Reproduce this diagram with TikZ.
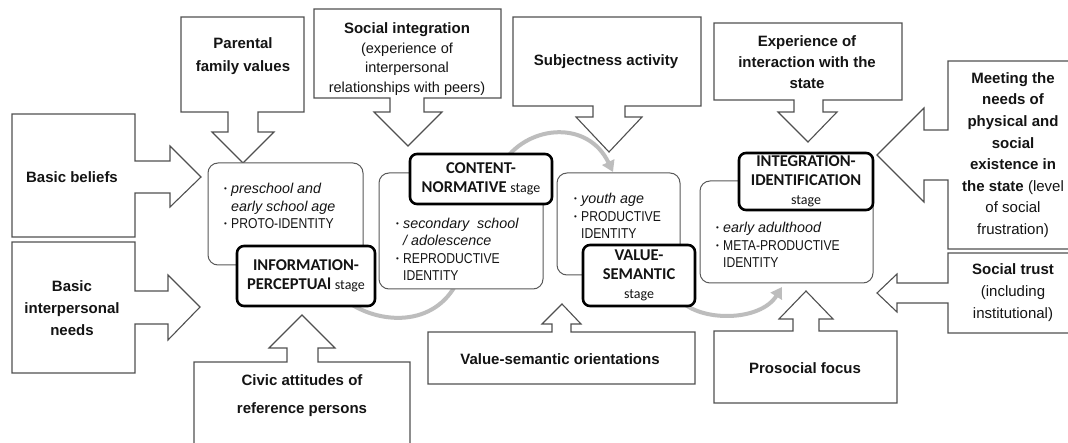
\documentclass[tikz,border=0pt]{standalone}
\usepackage{fontspec}
\setmainfont{Liberation Sans}
\newfontfamily\narrowfont[FakeStretch=0.85]{Liberation Sans}
\newfontfamily\calfont{Carlito}
\usetikzlibrary{arrows.meta}
\definecolor{txt}{HTML}{141414}
\definecolor{arcgray}{HTML}{BDBDBD}
\definecolor{outl}{HTML}{505050}
\newcommand\mybul{\makebox[7pt][l]{\raisebox{0.12em}{\fontsize{8}{8}\selectfont\textbullet}}}
\newcommand\myind{\makebox[7pt]{}}
\tikzset{
  callout/.style={draw=outl, line width=1.1pt, fill=white, line join=miter},
  cbox/.style={draw=black!65, line width=1pt, rounded corners=10pt, fill=white, inner sep=0pt},
  stagebox/.style={draw=black, line width=2.6pt, rounded corners=7pt, fill=white, inner sep=0pt,
    align=center, text=txt, font=\calfont\bfseries\fontsize{16.5}{19}\selectfont},
  ctext/.style={font=\bfseries\fontsize{15}{21.5}\selectfont, align=center, text=txt, inner sep=0pt},
  btext/.style={anchor=west, align=left, inner sep=0pt, font=\fontsize{14.3}{17.5}\selectfont, text=txt},
  cyc/.style={draw=arcgray, line width=4pt, -{Triangle[length=11pt,width=13pt]}},
}
\begin{document}
\begin{tikzpicture}[x=1pt,y=-1pt]
\useasboundingbox (0,0) rectangle (1068,443);
\clip (0,0) rectangle (1068,443);
\fill[white] (0,0) rectangle (1068,443);

% ---- callouts ----
\draw[callout] (12,114) -- (135,114) -- (135,161) -- (170,161) -- (170,146) -- (201,177) -- (170,207) -- (170,193) -- (135,193) -- (135,237) -- (12,237) -- cycle;
\node[ctext] (beliefs) at (72,177) {Basic beliefs};

\draw[callout] (12,242) -- (135,242) -- (135,291) -- (168,291) -- (168,275) -- (200,307) -- (168,340) -- (168,324) -- (135,324) -- (135,373) -- (12,373) -- cycle;
\node[ctext, font=\bfseries\fontsize{15}{22}\selectfont] (needs) at (72,308) {Basic\\interpersonal\\needs};

\draw[callout] (181,17) -- (304,17) -- (304,112) -- (258,112) -- (258,132) -- (274,132) -- (243,163) -- (212,132) -- (228,132) -- (228,112) -- (181,112) -- cycle;
\node[ctext, font=\bfseries\fontsize{15}{23}\selectfont] (parental) at (243,56.5) {Parental\\family values};

\draw[callout] (314,9) -- (501,9) -- (501,98) -- (424,98) -- (424,112) -- (442,112) -- (408,146) -- (374,112) -- (390,112) -- (390,98) -- (314,98) -- cycle;
\begin{scope}
\clip (315,10) rectangle (500,97.4);
\node[ctext, font=\bfseries\fontsize{15}{19.5}\selectfont] (social) at (407,59) {Social integration\\{\mdseries\fontsize{14.5}{19.5}\selectfont (experience of}\\{\mdseries\fontsize{14.5}{19.5}\selectfont interpersonal}\\{\mdseries\fontsize{14.5}{19.5}\selectfont relationships with peers)}};
\end{scope}

\draw[callout] (513,17) -- (701,17) -- (701,106) -- (625,106) -- (625,117) -- (642,117) -- (609,152) -- (576,117) -- (593,117) -- (593,106) -- (513,106) -- cycle;
\node[ctext] (subject) at (606,62) {Subjectness activity};

\draw[callout] (714,23) -- (902,23) -- (902,100) -- (823,100) -- (823,112) -- (837,112) -- (808,142) -- (778,112) -- (794,112) -- (794,100) -- (714,100) -- cycle;
\node[ctext, font=\bfseries\fontsize{15}{21}\selectfont] (state) at (807,62) {Experience of\\interaction with the\\state};

\draw[callout] (948,61) -- (1080,61) -- (1080,249) -- (948,249) -- (948,180) -- (924,180) -- (924,202) -- (877,155) -- (924,108) -- (924,130) -- (948,130) -- cycle;
\node[ctext, font=\bfseries\fontsize{15}{21.6}\selectfont] (meeting) at (1013,155) {Meeting the\\needs of\\physical and\\social\\existence in\\the state {\mdseries (level}\\{\mdseries of social}\\{\mdseries frustration)}};

\draw[callout] (948,253) -- (1080,253) -- (1080,333) -- (948,333) -- (948,303) -- (897,303) -- (897,312) -- (877,293) -- (897,274) -- (897,283) -- (948,283) -- cycle;
\node[ctext, font=\bfseries\fontsize{15}{22}\selectfont] (trust) at (1013,292.5) {Social trust\\{\mdseries (including}\\{\mdseries institutional)}};

\draw[callout] (714,331) -- (793,331) -- (793,319) -- (779,319) -- (806,291) -- (833,319) -- (819,319) -- (819,331) -- (897,331) -- (897,403) -- (714,403) -- cycle;
\node[ctext] (prosocial) at (805,368) {Prosocial focus};

\draw[callout] (428,332) -- (552,332) -- (552,324) -- (542,324) -- (562,304) -- (581,324) -- (571,324) -- (571,332) -- (695,332) -- (695,384) -- (428,384) -- cycle;
\node[ctext] (orient) at (560,359) {Value-semantic orientations};

\draw[callout] (194,362) -- (287,362) -- (287,348) -- (269,348) -- (302,315) -- (335,348) -- (318,348) -- (318,362) -- (410,362) -- (410,460) -- (194,460) -- cycle;
\node[ctext, font=\bfseries\fontsize{15}{28}\selectfont] (civic) at (302,396) {Civic attitudes of\\reference persons};

% ---- cycle arcs ----
\coordinate (a1s) at (345,300);
\coordinate (a1e) at (462,272);
\coordinate (a2s) at (505,160);
\coordinate (a2e) at (613,172);
\coordinate (a3s) at (680,300);
\coordinate (a3e) at (782,287);
\draw[cyc] (a1s) .. controls (378,325) and (435,328) .. (a1e);
\draw[cyc] (a2s) .. controls (530,125) and (588,120) .. (a2e);
\draw[cyc] (a3s) .. controls (700,322) and (760,322) .. (a3e);

% ---- content boxes ----
\node[cbox, minimum width=155pt, minimum height=102pt] (boxA) at (285.5,214) {};
\node[cbox, minimum width=164pt, minimum height=116pt] (boxB) at (461,231) {};
\node[cbox, minimum width=123pt, minimum height=102pt] (boxC) at (618.5,224) {};
\node[cbox, minimum width=173pt, minimum height=102pt] (boxD) at (786.5,232) {};

\node[btext] (tA) at (224,206) {\mybul\textit{preschool and}\\\myind\textit{early school age}\\\mybul{\narrowfont PROTO-IDENTITY}};
\node[btext] (tB) at (396,249.5) {\mybul\textit{secondary \ school}\\\myind\textit{/ adolescence}\\\mybul{\narrowfont REPRODUCTIVE}\\\myind{\narrowfont IDENTITY}};
\node[btext] (tC) at (574,216) {\mybul\textit{youth age}\\\mybul{\narrowfont PRODUCTIVE}\\\myind{\narrowfont IDENTITY}};
\node[btext] (tD) at (716,245) {\mybul\textit{early adulthood}\\\mybul{\narrowfont META-PRODUCTIVE}\\\myind{\narrowfont IDENTITY}};

% ---- stage labels ----
\node[stagebox, minimum width=138pt, minimum height=60pt] (sA) at (306,276) {INFORMATION-\\PERCEPTUAl {\mdseries\fontsize{14}{19}\selectfont stage}};
\node[stagebox, minimum width=142pt, minimum height=50pt] (sB) at (481,179) {CONTENT-\\NORMATIVE {\mdseries\fontsize{14}{19}\selectfont stage}};
\node[stagebox, minimum width=112pt, minimum height=61pt] (sC) at (639,275.5) {VALUE-\\SEMANTIC\\{\mdseries\fontsize{14}{17}\selectfont stage}};
\node[stagebox, minimum width=134pt, minimum height=57pt] (sD) at (806,181.5) {INTEGRATION-\\IDENTIFICATION\\{\mdseries\fontsize{14}{17}\selectfont stage}};
\end{tikzpicture}
\end{document}
